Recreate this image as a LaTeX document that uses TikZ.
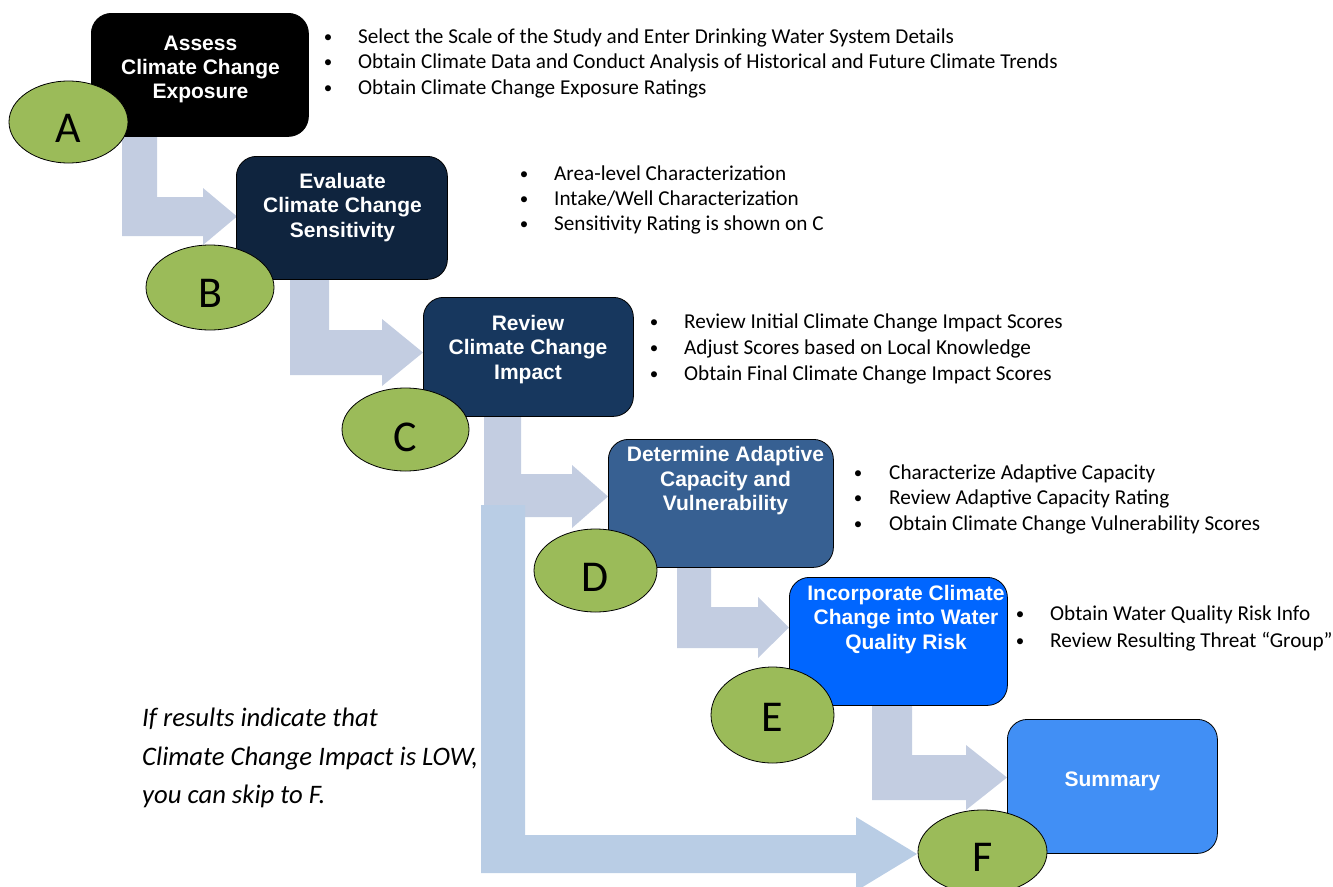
\documentclass[tikz,border=0pt]{standalone}
\usepackage{fontspec}
\setmainfont{Carlito}
\newfontfamily\arialfont{Liberation Sans}
\usetikzlibrary{shapes.geometric}
\definecolor{cA}{RGB}{0,0,0}
\definecolor{cB}{RGB}{15,36,62}
\definecolor{cC}{RGB}{23,55,94}
\definecolor{cD}{RGB}{55,96,146}
\definecolor{cE}{RGB}{0,102,255}
\definecolor{cF}{RGB}{65,143,245}
\definecolor{arrcol}{RGB}{195,205,225}
\definecolor{bigarr}{RGB}{185,205,229}
\definecolor{lgreen}{RGB}{155,187,89}
\begin{document}
\begin{tikzpicture}[x=1pt,y=-1pt,
  box/.style={draw=black, line width=0.8pt, rounded corners=20pt, anchor=north west, inner sep=0pt},
  oval/.style={ellipse, draw=black, line width=0.8pt, fill=lgreen, inner sep=0pt},
  ttl/.style={text=white, font=\arialfont\bfseries\fontsize{21}{24}\selectfont, anchor=base, inner sep=0pt},
  ltr/.style={font=\fontsize{44}{44}\selectfont, inner sep=0pt},
  bul/.style={font=\fontsize{21.2}{25}\selectfont, anchor=base west, inner sep=0pt},
  dot/.style={font=\fontsize{17}{19}\selectfont, anchor=base, inner sep=0pt},
  note/.style={font=\fontsize{26.7}{32}\selectfont\itshape, anchor=base west, inner sep=0pt},
  arr/.style={fill=arrcol},
  barr/.style={fill=bigarr}]
\useasboundingbox (0,0) rectangle (1333,886);

% block arrows
\fill[arr] (122,130) -- (157,130) -- (157,197) -- (203,197) -- (203,188) -- (237,216.5) -- (203,245) -- (203,236) -- (122,236) -- cycle;
\fill[arr] (290,270) -- (329,270) -- (329,330) -- (382,330) -- (382,319) -- (423,352.5) -- (382,386) -- (382,375) -- (290,375) -- cycle;
\fill[arr] (484,410) -- (521,410) -- (521,474) -- (572,474) -- (572,465) -- (608,496.5) -- (572,528) -- (572,517) -- (484,517) -- cycle;
\fill[arr] (677,560) -- (711,560) -- (711,607) -- (758,607) -- (758,597) -- (789,627.5) -- (758,658) -- (758,648) -- (677,648) -- cycle;
\fill[arr] (872,700) -- (912,700) -- (912,755) -- (966,755) -- (966,745) -- (1007,777.5) -- (966,810) -- (966,800) -- (872,800) -- cycle;
\fill[barr] (481,505) -- (525,505) -- (525,835) -- (856,835) -- (856,817) -- (917,854) -- (856,891) -- (856,873) -- (481,873) -- cycle;

% boxes
\node[box, fill=cA, minimum width=217pt, minimum height=123pt] (boxA) at (91,13) {};
\node[box, fill=cB, minimum width=211pt, minimum height=123pt] (boxB) at (236,156) {};
\node[box, fill=cC, minimum width=210pt, minimum height=119pt] (boxC) at (423,297) {};
\node[box, fill=cD, minimum width=225pt, minimum height=128pt] (boxD) at (608,439) {};
\node[box, fill=cE, minimum width=218pt, minimum height=128pt] (boxE) at (789,577) {};
\node[box, fill=cF, minimum width=210pt, minimum height=134pt] (boxF) at (1007,719) {};

% box titles
\node[ttl] (tA1) at (200.5,50) {Assess};
\node[ttl] (tA2) at (200.5,74) {Climate Change};
\node[ttl] (tA3) at (200.5,98) {Exposure};
\node[ttl] (tB1) at (342.5,188) {Evaluate};
\node[ttl] (tB2) at (342.5,212) {Climate Change};
\node[ttl] (tB3) at (342.5,237) {Sensitivity};
\node[ttl] (tC1) at (528,330) {Review};
\node[ttl] (tC2) at (528,354) {Climate Change};
\node[ttl] (tC3) at (528,379) {Impact};
\node[ttl] (tD1) at (725.5,461) {Determine Adaptive};
\node[ttl] (tD2) at (725.5,486) {Capacity and};
\node[ttl] (tD3) at (725.5,510) {Vulnerability};
\node[ttl] (tE1) at (906,600) {Incorporate Climate};
\node[ttl] (tE2) at (906,624) {Change into Water};
\node[ttl] (tE3) at (906,649) {Quality Risk};
\node[ttl] (tF1) at (1112.5,786) {Summary};

% ovals
\node[oval, minimum width=119pt, minimum height=82pt] (oA) at (68.5,122) {};
\node[oval, minimum width=128pt, minimum height=85pt] (oB) at (210,287.5) {};
\node[oval, minimum width=127pt, minimum height=83pt] (oC) at (405.5,429.5) {};
\node[oval, minimum width=123pt, minimum height=83pt] (oD) at (595.5,570.5) {};
\node[oval, minimum width=123pt, minimum height=96pt] (oE) at (772.5,715) {};
\node[oval, minimum width=129pt, minimum height=84pt] (oF) at (982.5,852) {};
\node[ltr] (lA) at (68.5,128) {A};
\node[ltr] (lB) at (210,293) {B};
\node[ltr] (lC) at (405.5,437.5) {C};
\node[ltr] (lD) at (595.5,577) {D};
\node[ltr] (lE) at (772.5,717.5) {E};
\node[ltr] (lF) at (982.5,857) {F};

% bullets A
\node[dot] (dA1) at (328,42) {•};
\node[dot] (dA2) at (328,67) {•};
\node[dot] (dA3) at (328,93) {•};
\node[bul] (bA1) at (358,43) {Select the Scale of the Study and Enter Drinking Water System Details};
\node[bul] (bA2) at (358,68) {Obtain Climate Data and Conduct Analysis of Historical and Future Climate Trends};
\node[bul] (bA3) at (358,94) {Obtain Climate Change Exposure Ratings};
% bullets B
\node[dot] (dB1) at (524,179) {•};
\node[dot] (dB2) at (524,204) {•};
\node[dot] (dB3) at (524,229) {•};
\node[bul] (bB1) at (554,180) {Area-level Characterization};
\node[bul] (bB2) at (554,205) {Intake/Well Characterization};
\node[bul] (bB3) at (554,230) {Sensitivity Rating is shown on C};
% bullets C
\node[dot] (dC1) at (654,327) {•};
\node[dot] (dC2) at (654,353) {•};
\node[dot] (dC3) at (654,379) {•};
\node[bul] (bC1) at (684,328) {Review Initial Climate Change Impact Scores};
\node[bul] (bC2) at (684,354) {Adjust Scores based on Local Knowledge};
\node[bul] (bC3) at (684,380) {Obtain Final Climate Change Impact Scores};
% bullets D
\node[dot] (dD1) at (858,478) {•};
\node[dot] (dD2) at (858,503) {•};
\node[dot] (dD3) at (858,529) {•};
\node[bul] (bD1) at (889,479) {Characterize Adaptive Capacity};
\node[bul] (bD2) at (889,504) {Review Adaptive Capacity Rating};
\node[bul] (bD3) at (889,530) {Obtain Climate Change Vulnerability Scores};
% bullets E
\node[dot] (dE1) at (1020,619) {•};
\node[dot] (dE2) at (1020,646) {•};
\node[bul] (bE1) at (1050,620) {Obtain Water Quality Risk Info};
\node[bul] (bE2) at (1050,647) {Review Resulting Threat “Group”};

% note
\node[note] (n1) at (142,726) {If results indicate that};
\node[note] (n2) at (142,765) {Climate Change Impact is LOW,};
\node[note] (n3) at (142,803) {you can skip to F.};
\end{tikzpicture}
\end{document}
